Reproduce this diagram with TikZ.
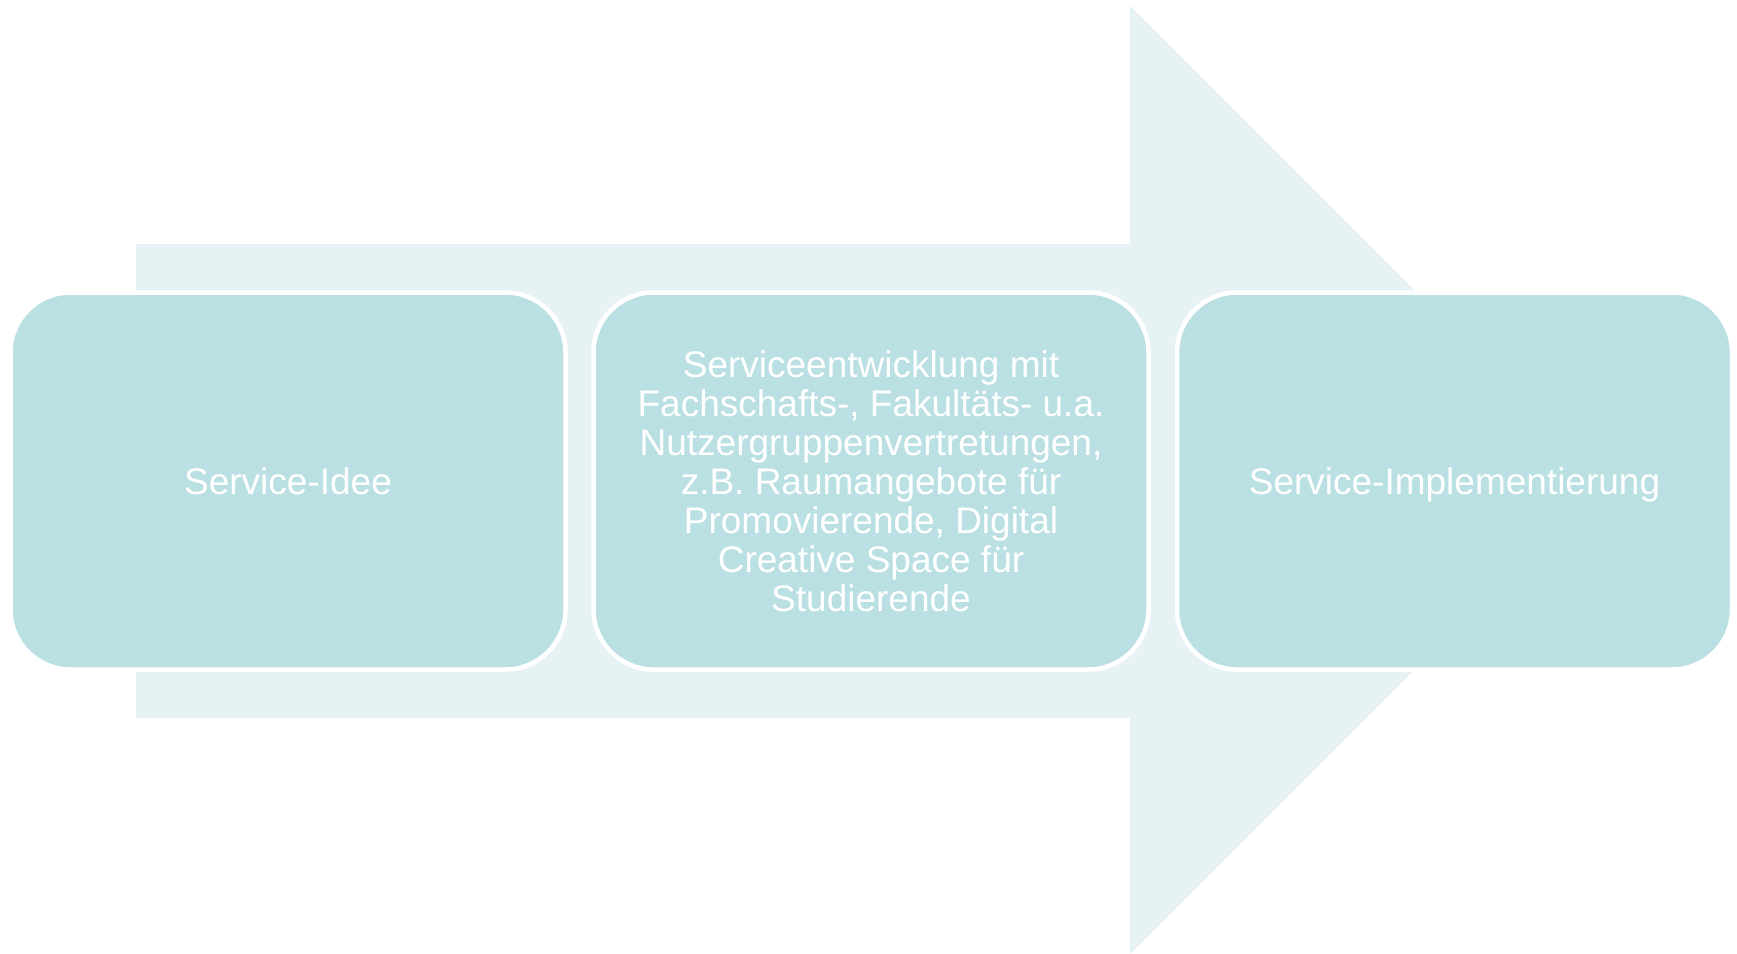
\documentclass[tikz,border=0pt]{standalone}
\usepackage{fontspec}
\setmainfont{Liberation Sans}
\definecolor{arrowfill}{HTML}{E6F2F4}
\definecolor{boxfill}{HTML}{BBE0E3}
\begin{document}
\begin{tikzpicture}[x=1pt,y=-1pt,
  stagebox/.style={draw=white, line width=4.5pt, fill=boxfill, rounded corners=60pt,
    minimum width=555pt, minimum height=377pt, inner sep=0pt, align=center,
    text=white, font=\fontsize{37}{39}\selectfont}]
\useasboundingbox (0,0) rectangle (1737,953);
\fill[arrowfill] (136,244) -- (1130,244) -- (1130,6) -- (1604,480) -- (1130,954)
  -- (1130,718) -- (136,718) -- cycle;
\node[stagebox, text depth=0pt] (a) at (288,481) {Service-Idee};
\node[stagebox] (b) at (871,481) {Serviceentwicklung mit\\Fachschafts-, Fakultäts- u.a.\\Nutzergruppenvertretungen,\\z.B. Raumangebote für\\Promovierende, Digital\\Creative Space für\\Studierende};
\node[stagebox, text depth=0pt] (c) at (1454.5,481) {Service-Implementierung};
\end{tikzpicture}
\end{document}
